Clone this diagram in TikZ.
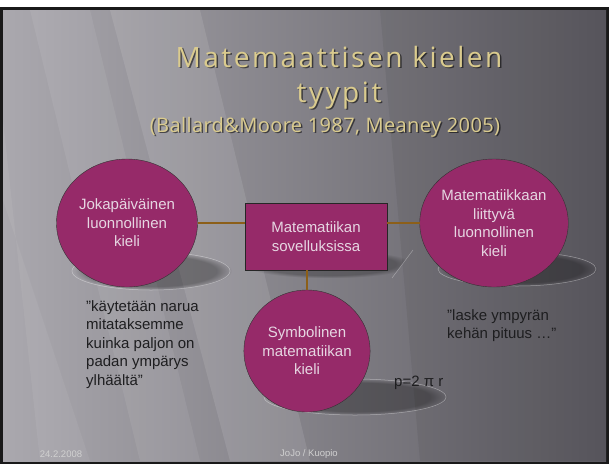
\documentclass[tikz,border=0pt]{standalone}
\usepackage{fontspec}
\setmainfont{Liberation Sans}
\newfontfamily\titlefont[LetterSpace=9]{Open Sans}
\newfontfamily\subtitlefont[LetterSpace=2]{Open Sans}
\usetikzlibrary{shapes.geometric,fadings}
\definecolor{plum}{RGB}{150,42,105}
\definecolor{wire}{RGB}{140,95,25}
\definecolor{gold}{RGB}{218,203,142}
\definecolor{bubbletext}{RGB}{230,214,226}
\definecolor{quotetext}{RGB}{30,30,32}
\begin{document}
\begin{tikzpicture}[x=1pt,y=-1pt,
  bubble/.style={ellipse, draw=black!80, fill=plum, text=bubbletext, align=center, inner sep=0pt, font=\fontsize{15}{18.5}\selectfont},
  box/.style={rectangle, draw=black!85, fill=plum, text=bubbletext, align=center, font=\fontsize{15}{18.5}\selectfont},
  quote/.style={anchor=north west, align=left, inner sep=0pt, text=quotetext, font=\fontsize{15}{18.5}\selectfont},
  footer/.style={text=black!18, font=\fontsize{9.5}{11}\selectfont},
  ttl/.style={anchor=base, text=gold},
  ttlshadow/.style={anchor=base, text=black, opacity=.55}]
\useasboundingbox (0,0) rectangle (609,464);
% slide frame and background
\fill[white] (0,0) rectangle (609,464);
\fill[black!90] (0,7) rectangle (609,464);
\fill[left color={rgb,255:red,170;green,168;blue,174}, right color={rgb,255:red,92;green,90;blue,97}] (3,10) rectangle (606,461);
\fill[white, opacity=.10] (110,10) -- (200,10) -- (310,461) -- (230,461) -- cycle;
\fill[white, opacity=.07] (30,10) -- (90,10) -- (200,461) -- (140,461) -- cycle;
\fill[white, opacity=.06] (3,120) -- (3,200) -- (90,461) -- (40,461) -- cycle;
\fill[black, opacity=.06] (380,10) -- (606,10) -- (606,461) -- (420,461) -- cycle;
% title
\node[ttlshadow, font=\titlefont\fontsize{28}{30}\selectfont] at (340.5,68.5) {Matemaattisen kielen};
\node[ttl, font=\titlefont\fontsize{28}{30}\selectfont] (title1) at (339,67) {Matemaattisen kielen};
\node[ttlshadow, font=\titlefont\fontsize{28}{30}\selectfont] at (340.5,103.5) {tyypit};
\node[ttl, font=\titlefont\fontsize{28}{30}\selectfont] (title2) at (339,102) {tyypit};
\node[ttlshadow, font=\subtitlefont\fontsize{20}{22}\selectfont] at (326.5,133.5) {(Ballard\&Moore 1987, Meaney 2005)};
\node[ttl, font=\subtitlefont\fontsize{20}{22}\selectfont] (title3) at (325,132) {(Ballard\&Moore 1987, Meaney 2005)};
% shadows
\fill[black, opacity=.3, path fading=circle with fuzzy edge 20 percent] (153,271) ellipse [x radius=79, y radius=19];
\draw[white, opacity=.4, line width=.5] (151,271) ellipse [x radius=79, y radius=19];
\fill[black, opacity=.3, path fading=circle with fuzzy edge 20 percent] (519,269) ellipse [x radius=79, y radius=17];
\draw[white, opacity=.4, line width=.5] (517,269) ellipse [x radius=79, y radius=17];
\fill[black, opacity=.3, path fading=circle with fuzzy edge 20 percent] (357,397) ellipse [x radius=91, y radius=18];
\draw[white, opacity=.4, line width=.5] (355,397) ellipse [x radius=91, y radius=18];
\fill[black, opacity=.25, path fading=circle with fuzzy edge 20 percent] (245,250) -- (413,250) -- (392,278) -- (243,278) -- cycle;
\draw[white, opacity=.35, line width=.5] (413,250) -- (392,278);
% nodes
\node[bubble, minimum width=141, minimum height=128] (jok) at (127,223) {Jokapäiväinen\\luonnollinen\\kieli};
\node[box, minimum width=142, minimum height=67] (sov) at (316,236.5) {Matematiikan\\sovelluksissa};
\node[bubble, minimum width=142, minimum height=128] (mat) at (494,223) {Matematiikkaan\\liittyvä\\luonnollinen\\kieli};
\node[bubble, minimum width=116, minimum height=122] (sym) at (307,351) {Symbolinen\\matematiikan\\kieli};
\draw[wire, line width=1.3](jok.east) -- (jok.east -| sov.west);
\draw[wire, line width=1.3](mat.west) -- (mat.west -| sov.east);
\draw[wire, line width=1.3](sym.north |- sov.south) -- (sym.north);
% quotes
\node[quote] (q1) at (86,300) {”käytetään narua\\mitataksemme\\kuinka paljon on\\padan ympärys\\ylhäältä”};
\node[quote] (q2) at (447,309) {”laske ympyrän\\kehän pituus …”};
\node[quote, anchor=west] (q3) at (394,383) {p=2 π r};
% footer
\node[footer] (date) at (61,454) {24.2.2008};
\node[footer] (place) at (309,454) {JoJo / Kuopio};
\end{tikzpicture}
\end{document}
